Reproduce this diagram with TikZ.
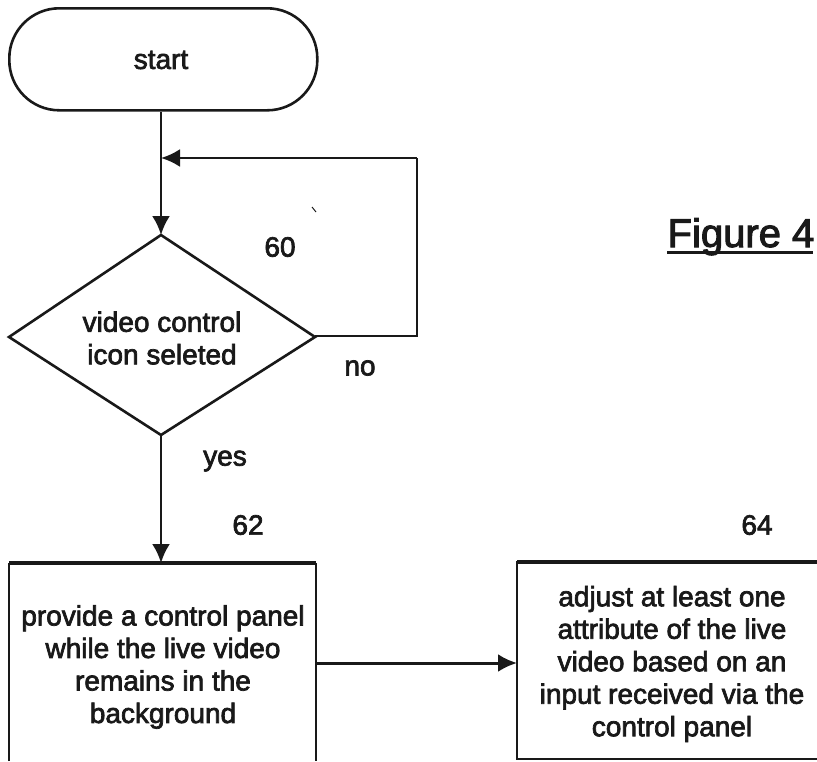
\documentclass[tikz,border=0pt]{standalone}
\usepackage{fontspec}
\setmainfont[FakeBold=2.5]{Liberation Sans}
\usetikzlibrary{arrows.meta}
\tikzset{
  ln/.style={draw=black!90,line width=2.6pt},
  thin ln/.style={draw=black!90,line width=1.8pt},
  thick ln/.style={draw=black!90,line width=3.2pt},
  arr/.style={ln,-{Latex[length=19pt,width=18pt]}},
  txt/.style={font=\fontsize{28}{32.5}\selectfont,text=black!90,align=center,inner sep=0pt}
}
\begin{document}
\begin{tikzpicture}[x=1pt,y=-1pt]
\useasboundingbox (0,0) rectangle (817,761);
\node[ln,rounded corners=50pt,minimum width=308pt,minimum height=102pt,inner sep=0pt,anchor=north west] (start) at (8,7) {};
\node[txt] (starttxt) at (161,60) {start};
\coordinate (dt) at (161,235);
\coordinate (db) at (161,435);
\coordinate (dl) at (9,337);
\coordinate (dr) at (315,337);
\draw[ln,line join=miter] (dt) -- (dr) -- (db) -- (dl) -- cycle;
\node[txt] (dtxt) at (162,338) {video control\\icon seleted};
\coordinate (ne) at (417,336);
\coordinate (nf) at (417,158);
\coordinate (j) at (161,158);
\draw[arr] (start.south -| dt) -- (dt);
\draw[ln] (dr |- ne) -- (ne) -- (nf);
\draw[arr] (nf) -- (j);
% left box, open below the picture's edge
\coordinate (pbl) at (9,761);
\coordinate (ptl) at (9,563);
\coordinate (ptr) at (316,563);
\coordinate (pbr) at (316,761);
\draw[thin ln] (pbl) -- (ptl) (ptr) -- (pbr);
\draw[thick ln] (ptl) -- (ptr);
\draw[arr] (db) -- (161,563);
\node[txt] (ptxt) at (163,667) {provide a control panel\\while the live video\\remains in the\\background};
% right box, open past the picture's edge
\coordinate (qtl) at (517,562);
\coordinate (qbl) at (517,759);
\coordinate (qtr) at (817,562);
\coordinate (qbr) at (817,759);
\draw[thin ln] (qtr) -- (qtl) -- (qbl) -- (qbr);
\draw[thick ln] (qtl) -- (qtr);
\node[txt] (qtxt) at (672,664) {adjust at least one\\attribute of the live\\video based on an\\input received via the\\control panel};
\draw[arr,line width=3pt] (316,663) -- (517,663);
\node[txt] (n60) at (280,247) {60};
\node[txt] (n62) at (248,525) {62};
\node[txt] (n64) at (757,525) {64};
\node[txt] (no) at (360,368) {no};
\node[txt] (yes) at (225,461) {yes};
\node[txt,font=\fontsize{40}{44}\selectfont,anchor=base] (fig) at (741,247) {Figure 4};
\draw[thick ln] (667,252.5) -- (813,252.5);
\draw[line width=1pt,black!90] (312,207) -- (316,212);
\end{tikzpicture}
\end{document}
